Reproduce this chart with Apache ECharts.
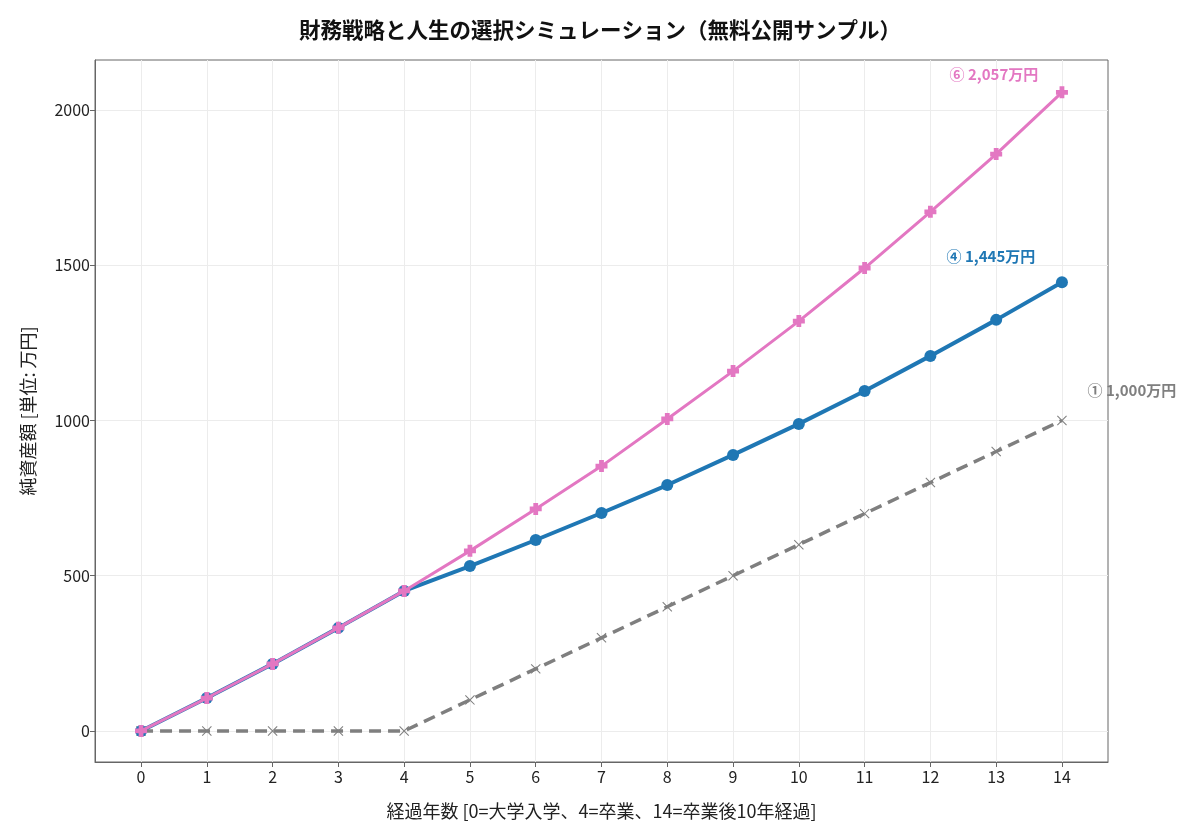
<!DOCTYPE html>
<html>
<head>
<meta charset="utf-8">
<script src="https://cdn.jsdelivr.net/npm/echarts@6/dist/echarts.min.js"></script>
<style>
  html, body { margin: 0; padding: 0; background: #fff; }
  #main { width: 1200px; height: 840px; }
</style>
</head>
<body>
<div id="main"></div>
<script>
// 経過年数
const years = [0, 1, 2, 3, 4, 5, 6, 7, 8, 9, 10, 11, 12, 13, 14];
// ① 基本プラン
const planBase = [0, 0, 0, 0, 0, 100, 200, 300, 400, 500, 600, 700, 800, 900, 1000];
// ④ 中間プラン
const planMid = [0, 106, 216, 332, 451, 531, 615, 702, 792, 889, 989, 1095, 1208, 1324, 1445];
// ⑥ 最大プラン
const planTop = [0, 106, 216, 332, 451, 580, 715, 853, 1005, 1159, 1320, 1491, 1672, 1858, 2057];
const yTicks = [0, 500, 1000, 1500, 2000];

const fontJP = '"Noto Sans CJK JP", "Noto Sans", sans-serif';
const chart = echarts.init(document.getElementById('main'));

function toPairs(vals) {
  return years.map((y, i) => [y, vals[i]]);
}

// 最後の点にだけラベルを付ける
function lastLabel(vals, text, color, offset) {
  const d = toPairs(vals);
  const last = d.length - 1;
  d[last] = {
    value: d[last],
    label: {
      show: true,
      formatter: text,
      color: color,
      fontWeight: 'bold',
      fontSize: 15,
      fontFamily: fontJP,
      position: 'inside',
      offset: offset
    }
  };
  return d;
}

const plusPath = 'path://M3,0H7V3H10V7H7V10H3V7H0V3H3Z';
const thinPlus = 'path://M4.6,0H5.4V4.6H10V5.4H5.4V10H4.6V5.4H0V4.6H4.6Z';

const option = {
  backgroundColor: '#fff',
  animation: false,
  title: {
    text: '財務戦略と人生の選択シミュレーション（無料公開サンプル）',
    left: 'center',
    top: 14,
    textStyle: { fontSize: 21.5, fontWeight: 'bold', color: '#111', fontFamily: fontJP }
  },
  grid: {
    left: 95, right: 92, top: 60, bottom: 78,
    show: true, borderColor: '#666', borderWidth: 1
  },
  xAxis: {
    type: 'value',
    min: -0.7, max: 14.7,
    name: '経過年数 [0=大学入学、4=卒業、14=卒業後10年経過]',
    nameLocation: 'middle',
    nameGap: 40,
    nameTextStyle: { fontSize: 18, color: '#222', fontFamily: fontJP },
    axisLine: { show: true, onZero: false, lineStyle: { color: '#666' } },
    axisTick: { show: true, length: 5, customValues: years, lineStyle: { color: '#666' } },
    axisLabel: {
      fontSize: 16, color: '#222', fontFamily: fontJP, margin: 7,
      customValues: years,
      formatter: v => String(v)
    },
    splitLine: { show: true, lineStyle: { color: '#ececec', width: 1 } }
  },
  yAxis: {
    type: 'value',
    min: -100, max: 2161,
    name: '純資産額 [単位: 万円]',
    nameLocation: 'middle',
    nameGap: 58,
    nameTextStyle: { fontSize: 18, color: '#222', fontFamily: fontJP },
    axisLine: { show: true, onZero: false, lineStyle: { color: '#666' } },
    axisTick: { show: true, length: 5, customValues: yTicks, lineStyle: { color: '#666' } },
    axisLabel: {
      fontSize: 16, color: '#222', fontFamily: fontJP, margin: 5,
      customValues: yTicks,
      formatter: v => String(v)
    },
    splitLine: { show: true, lineStyle: { color: '#ececec', width: 1 } }
  },
  series: [
    {
      name: '①',
      type: 'line',
      data: lastLabel(planBase, '① 1,000万円', '#7f7f7f', [70, -30]),
      lineStyle: { color: '#7f7f7f', width: 3.5, type: [12, 7] },
      itemStyle: { color: '#7f7f7f' },
      symbol: thinPlus,
      symbolSize: 13,
      symbolRotate: 45,
      z: 2
    },
    {
      name: '④',
      type: 'line',
      data: lastLabel(planMid, '④ 1,445万円', '#1f77b4', [-71, -26]),
      lineStyle: { color: '#1f77b4', width: 4 },
      itemStyle: { color: '#1f77b4' },
      symbol: 'circle',
      symbolSize: 12,
      z: 3
    },
    {
      name: '⑥',
      type: 'line',
      data: lastLabel(planTop, '⑥ 2,057万円', '#e377c2', [-68, -18]),
      lineStyle: { color: '#e377c2', width: 3 },
      itemStyle: { color: '#e377c2' },
      symbol: plusPath,
      symbolSize: 12,
      z: 4
    }
  ]
};

chart.setOption(option);
</script>
</body>
</html>
